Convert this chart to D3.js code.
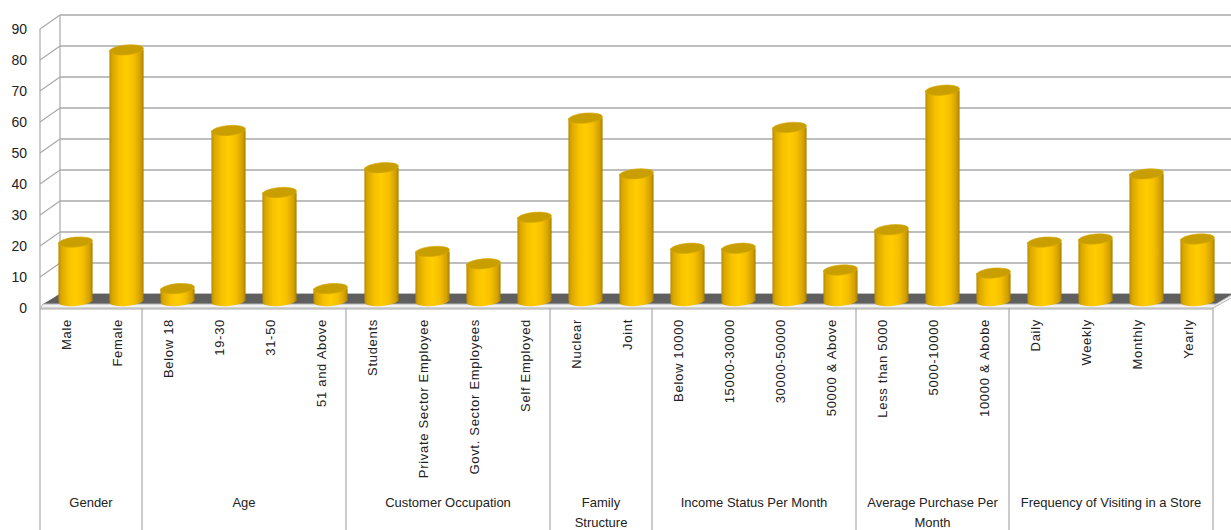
<!DOCTYPE html>
<html>
<head>
<meta charset="utf-8">
<script src="https://cdn.jsdelivr.net/npm/d3@7"></script>
<style>
  html, body { margin: 0; padding: 0; background: #ffffff; }
  svg { display: block; }
  text { font-family: "Liberation Sans", Arial, sans-serif; fill: #222; }
</style>
</head>
<body>
<svg id="chart" width="1231" height="530"></svg>
<script>
// ---- data ----
const categories = [
  "Male", "Female",
  "Below 18", "19-30", "31-50", "51 and Above",
  "Students", "Private Sector Employee", "Govt. Sector Employees", "Self Employed",
  "Nuclear", "Joint",
  "Below 10000", "15000-30000", "30000-50000", "50000 & Above",
  "Less than 5000", "5000-10000", "10000 & Abobe",
  "Daily", "Weekly", "Monthly", "Yearly"
];
const values = [
  19, 81,
  4, 55, 35, 4,
  43, 16, 12, 27,
  59, 41,
  17, 17, 56, 10,
  23, 68, 9,
  19, 20, 41, 20
];
const groupNames = [
  "Gender", "Age", "Customer Occupation", "Family Structure",
  "Income Status Per Month", "Average Purchase Per Month",
  "Frequency of Visiting in a Store"
];
const groupSizes = [2, 4, 4, 2, 4, 3, 4];
const yTicks = [0, 10, 20, 30, 40, 50, 60, 70, 80, 90];

// ---- layout ----
const W = 1231, H = 530;
const svg = d3.select("#chart");
const DX = 20, DY = -14;          // depth offset of the back wall
const x = d3.scaleBand().domain(categories).range([40, 1213]).padding(0);
const y = d3.scaleLinear().domain([0, 90]).range([308, 29]);
const bw = x.bandwidth();

const grid = "#a9a9a9";

// back wall gridlines
svg.append("g").selectAll("line").data(yTicks).join("line")
  .attr("x1", 40 + DX).attr("x2", W + 5)
  .attr("y1", d => y(d) + DY).attr("y2", d => y(d) + DY)
  .attr("stroke", grid).attr("stroke-width", 1.5);

// left wall diagonals
svg.append("g").selectAll("line").data(yTicks).join("line")
  .attr("x1", 40).attr("x2", 40 + DX)
  .attr("y1", d => y(d)).attr("y2", d => y(d) + DY)
  .attr("stroke", grid).attr("stroke-width", 1.2);

// wall verticals
svg.append("line").attr("x1", 40 + DX).attr("x2", 40 + DX)
  .attr("y1", y(0) + DY).attr("y2", y(90) + DY).attr("stroke", grid).attr("stroke-width", 1.2);
svg.append("line").attr("x1", 40).attr("x2", 40)
  .attr("y1", y(0)).attr("y2", y(90)).attr("stroke", grid).attr("stroke-width", 1.2);

// floor
const y0 = y(0);
svg.append("polygon")
  .attr("points", [[43, y0 - 4], [40 + DX, y0 + DY], [W + 5, y0 + DY], [1216 + 0, y0 - 4]].map(p => p.join(",")).join(" "))
  .attr("fill", "#5f5f5f");
svg.append("polygon")
  .attr("points", [[40, y0], [43, y0 - 4], [1216, y0 - 4], [1233, y0 + DY], [1233, y0 + DY + 3], [1213, y0]].map(p => p.join(",")).join(" "))
  .attr("fill", "#f2f2f2").attr("stroke", "#b5b5b5").attr("stroke-width", 1);

// y axis labels
svg.append("g").selectAll("text").data(yTicks).join("text")
  .attr("x", 27).attr("y", d => y(d)).attr("dy", "0.35em")
  .attr("text-anchor", "end").style("font-size", "14px")
  .text(d => d);

// category axis box
const bounds = [0];
groupSizes.forEach(s => bounds.push(bounds[bounds.length - 1] + s));
const bx = i => i < categories.length ? x(categories[i]) : x(categories[categories.length - 1]) + bw;
svg.append("line").attr("x1", 40).attr("x2", 1213).attr("y1", y0 + 1).attr("y2", y0 + 1)
  .attr("stroke", grid).attr("stroke-width", 1.2);
svg.append("g").selectAll("line").data(bounds).join("line")
  .attr("x1", d => bx(d)).attr("x2", d => bx(d))
  .attr("y1", y0).attr("y2", H + 2)
  .attr("stroke", grid).attr("stroke-width", 1.2);

// cylinders
const defs = svg.append("defs");
const grad = defs.append("linearGradient").attr("id", "cyl")
  .attr("x1", 0).attr("x2", 1).attr("y1", 0).attr("y2", 0);
[[0, "#b88a00"], [0.08, "#d9a600"], [0.3, "#f7c200"], [0.5, "#ffcc00"], [0.72, "#f5bf00"], [0.92, "#d09e00"], [1, "#a87e00"]]
  .forEach(([o, c]) => grad.append("stop").attr("offset", o).attr("stop-color", c));

const w = bw * 0.67, rx = w / 2, ry = 5;
const bars = svg.append("g").selectAll("g").data(categories).join("g");
bars.each(function (c, i) {
  const g = d3.select(this);
  const cx = x(c) + bw / 2 + DX / 2;
  const yb = y(0) + DY / 2;
  const yt = y(values[i]) + DY / 2;
  g.append("ellipse").attr("cx", cx).attr("cy", yb).attr("rx", rx).attr("ry", ry)
    .attr("transform", `rotate(-5,${cx},${yb})`).attr("fill", "url(#cyl)");
  g.append("rect").attr("x", cx - rx).attr("y", yt).attr("width", w).attr("height", Math.max(0, yb - yt))
    .attr("fill", "url(#cyl)");
  g.append("ellipse").attr("cx", cx).attr("cy", yt).attr("rx", rx).attr("ry", ry)
    .attr("transform", `rotate(-5,${cx},${yt})`)
    .attr("fill", "#c99e00").attr("stroke", "#d8aa00").attr("stroke-width", 0.6);
});

// category labels (rotated)
svg.append("g").selectAll("text").data(categories).join("text")
  .attr("transform", c => `translate(${x(c) + bw / 2 + 1},${y0 + 11}) rotate(-90)`)
  .attr("dy", "0.35em").attr("text-anchor", "end")
  .style("font-size", "13px").style("letter-spacing", "0.7px")
  .text(c => c);

// group labels (wrapped)
groupNames.forEach((name, gi) => {
  const left = bx(bounds[gi]), right = bx(bounds[gi + 1]);
  const cx = (left + right) / 2;
  const t = svg.append("text").attr("x", cx).attr("y", 502).attr("text-anchor", "middle")
    .style("font-size", "13px");
  const words = name.split(" ");
  let line = [], lineNo = 0;
  let ts = t.append("tspan").attr("x", cx).attr("dy", "0.35em");
  const maxW = right - left - 12;
  words.forEach(wd => {
    line.push(wd);
    ts.text(line.join(" "));
    if (ts.node().getComputedTextLength() > maxW && line.length > 1) {
      line.pop();
      ts.text(line.join(" "));
      line = [wd];
      lineNo++;
      ts = t.append("tspan").attr("x", cx).attr("dy", "20px").text(wd);
    }
  });
});
</script>
</body>
</html>
